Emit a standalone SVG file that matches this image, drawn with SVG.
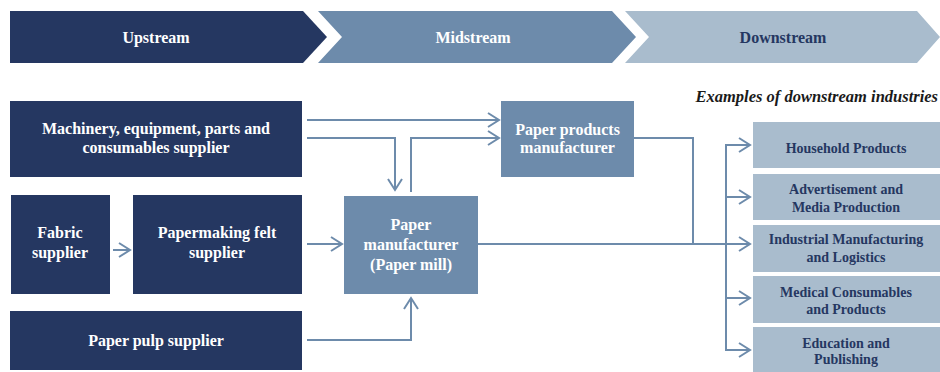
<svg xmlns="http://www.w3.org/2000/svg" width="940" height="372" viewBox="0 0 940 372">
  <defs>
    <style>
      .t { font-family: "Liberation Serif", "Times New Roman", serif; font-weight: bold; text-anchor: middle; }
      .hdr { font-size: 16px; }
      .lg { font-size: 16px; fill: #ffffff; }
      .sm { font-size: 14px; fill: #253761; }
      .dark { fill: #253761; }
      .mid { fill: #6d8bab; }
      .light { fill: #a9bccd; }
      .conn { fill: none; stroke: #6d8bab; stroke-width: 2; }
    </style>
    <marker id="arr" markerUnits="userSpaceOnUse" viewBox="-13 -8 15 16" markerWidth="15" markerHeight="16" refX="0" refY="0" orient="auto">
      <path d="M-11,-7 L0,0 L-11,7" fill="none" stroke="#6d8bab" stroke-width="2"/>
    </marker>
  </defs>
  <rect width="940" height="372" fill="#ffffff"/>

  <g id="header">
    <g id="upstream">
      <path class="dark" d="M10,11 H303 L327,37 L303,63 H10 Z"/>
      <text class="t hdr" x="156" y="43" fill="#ffffff">Upstream</text>
    </g>
    <g id="midstream">
      <path class="mid" d="M318,11 H612 L636,37 L612,63 H318 L342,37 Z"/>
      <text class="t hdr" x="473" y="43" fill="#ffffff">Midstream</text>
    </g>
    <g id="downstream">
      <path class="light" d="M625,11 H917 L940,37 L917,63 H625 L649,37 Z"/>
      <text class="t hdr" x="783" y="43" fill="#253761">Downstream</text>
    </g>
  </g>

  <text id="examples-label" x="938" y="101.5" style="font-family: 'Liberation Serif', 'Times New Roman', serif; font-weight: bold; font-style: italic; font-size: 16.5px; text-anchor: end;" fill="#1a1a1a">Examples of downstream industries</text>

  <g id="machinery">
    <rect class="dark" x="10" y="101" width="292" height="76"/>
    <text class="t lg" x="156" y="134">Machinery, equipment, parts and</text>
    <text class="t lg" x="156" y="153">consumables supplier</text>
  </g>
  <g id="fabric">
    <rect class="dark" x="11" y="195" width="99" height="99"/>
    <text class="t lg" x="60" y="238">Fabric</text>
    <text class="t lg" x="60" y="258">supplier</text>
  </g>
  <g id="felt">
    <rect class="dark" x="133" y="195" width="169" height="99"/>
    <text class="t lg" x="217" y="238">Papermaking felt</text>
    <text class="t lg" x="217" y="258">supplier</text>
  </g>
  <g id="pulp">
    <rect class="dark" x="10" y="311" width="292" height="59"/>
    <text class="t lg" x="156" y="345.5">Paper pulp supplier</text>
  </g>

  <g id="paper-mill">
    <rect class="mid" x="344" y="196" width="134" height="98"/>
    <text class="t lg" x="411" y="230">Paper</text>
    <text class="t lg" x="411" y="249.5">manufacturer</text>
    <text class="t lg" x="411" y="269.5">(Paper mill)</text>
  </g>
  <g id="paper-products">
    <rect class="mid" x="501" y="101" width="133" height="76"/>
    <text class="t lg" x="567.5" y="134.5">Paper products</text>
    <text class="t lg" x="567.5" y="153">manufacturer</text>
  </g>

  <g id="household">
    <rect class="light" x="753" y="122" width="187" height="46"/>
    <text class="t sm" x="846" y="152.5">Household Products</text>
  </g>
  <g id="advertisement">
    <rect class="light" x="753" y="174" width="187" height="46"/>
    <text class="t sm" x="846" y="194">Advertisement and</text>
    <text class="t sm" x="846" y="211.5">Media Production</text>
  </g>
  <g id="industrial">
    <rect class="light" x="753" y="225" width="187" height="47"/>
    <text class="t sm" x="846" y="244">Industrial Manufacturing</text>
    <text class="t sm" x="846" y="261.5">and Logistics</text>
  </g>
  <g id="medical">
    <rect class="light" x="753" y="276" width="187" height="47"/>
    <text class="t sm" x="846" y="296.5">Medical Consumables</text>
    <text class="t sm" x="846" y="313.5">and Products</text>
  </g>
  <g id="education">
    <rect class="light" x="753" y="327" width="187" height="47"/>
    <text class="t sm" x="846" y="347.5">Education and</text>
    <text class="t sm" x="846" y="364">Publishing</text>
  </g>

  <g id="connectors">
    <path class="conn" d="M307,120 H499" marker-end="url(#arr)"/>
    <path class="conn" d="M307,138 H395 V190" marker-end="url(#arr)"/>
    <path class="conn" d="M411,192 V138 H499" marker-end="url(#arr)"/>
    <path class="conn" d="M113,250 H130" marker-end="url(#arr)"/>
    <path class="conn" d="M307,244 H342" marker-end="url(#arr)"/>
    <path class="conn" d="M307,340 H411 V298" marker-end="url(#arr)"/>
    <path class="conn" d="M634,138 H693 V244"/>
    <path class="conn" d="M478,244 H750" marker-end="url(#arr)"/>
    <path class="conn" d="M726,145 V350"/>
    <path class="conn" d="M725,145 H750" marker-end="url(#arr)"/>
    <path class="conn" d="M725,197 H750" marker-end="url(#arr)"/>
    <path class="conn" d="M725,298 H750" marker-end="url(#arr)"/>
    <path class="conn" d="M725,350 H750" marker-end="url(#arr)"/>
  </g>
</svg>
